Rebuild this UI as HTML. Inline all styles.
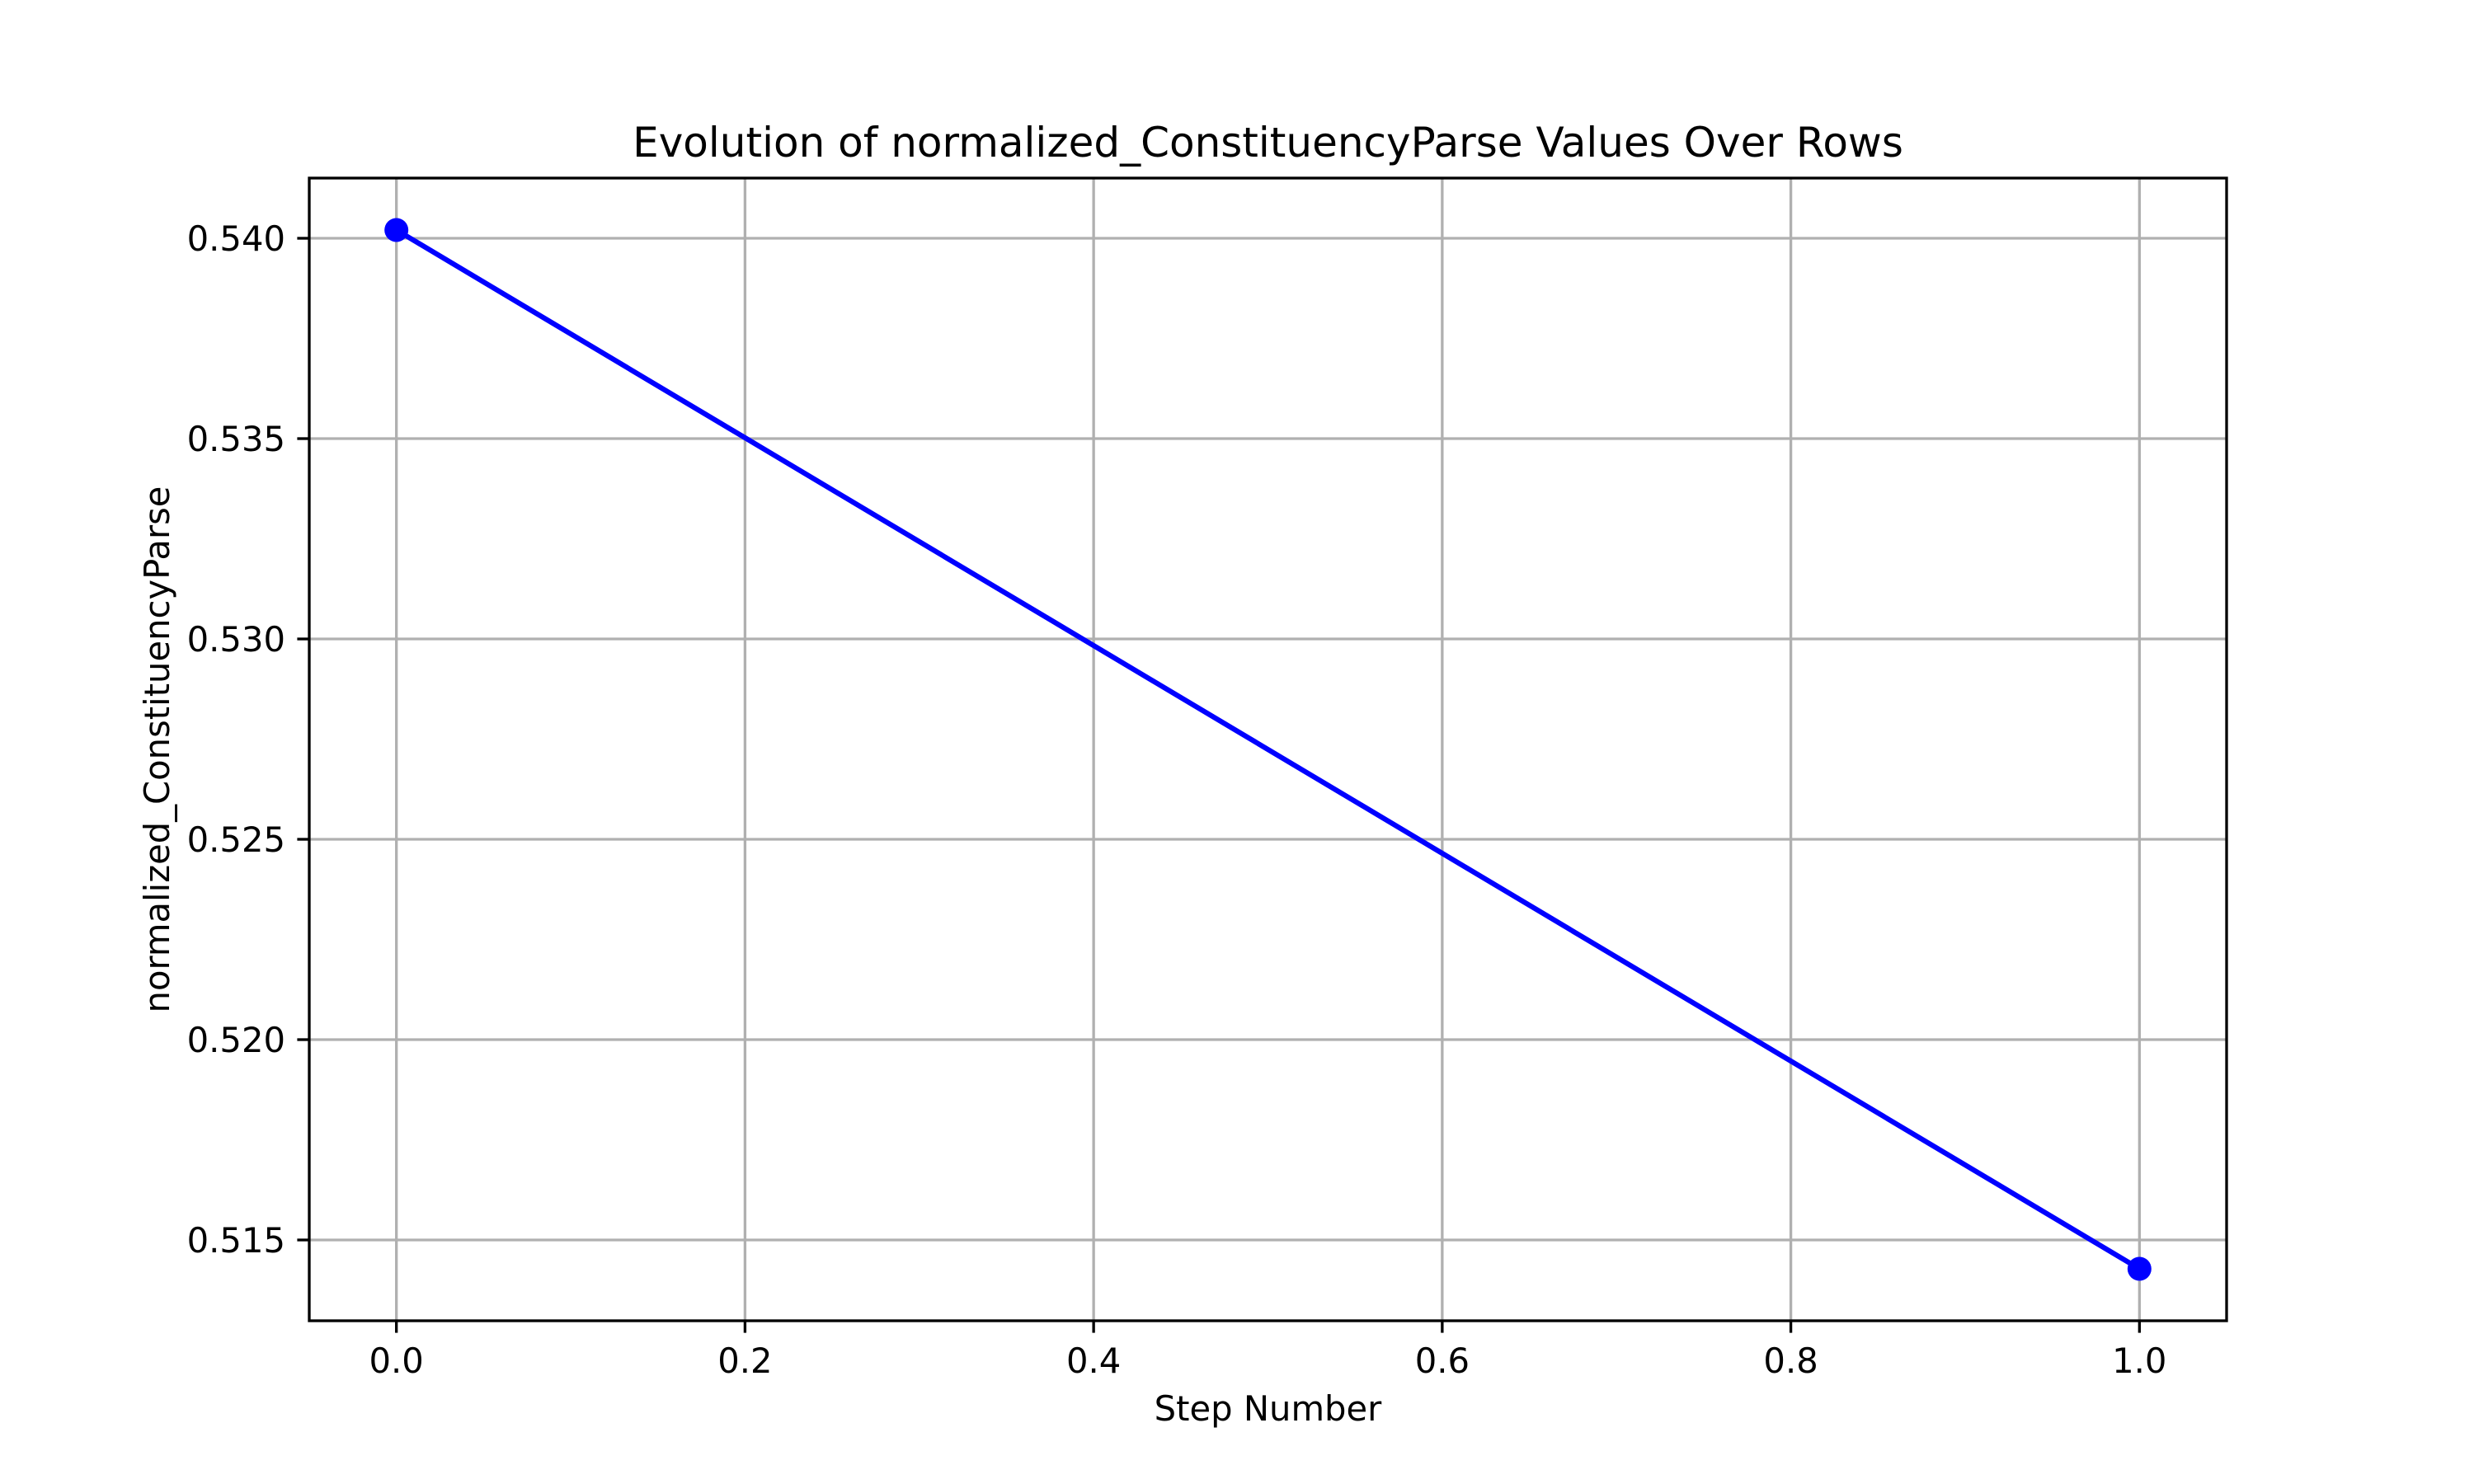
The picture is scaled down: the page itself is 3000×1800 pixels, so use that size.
<!DOCTYPE html>
<html><head><meta charset="utf-8"><style>body{margin:0;background:#fff}svg{display:block}</style></head>
<body>
<svg id="chart" xmlns="http://www.w3.org/2000/svg" width="3000" height="1800" viewBox="0 0 3000 1800" font-family="DejaVu Sans, Liberation Sans, sans-serif">
<rect width="3000" height="1800" fill="#fff"/>
<g id="grid"></g>
<g id="ticks"></g>
<g id="series"></g>
<rect x="375" y="216" width="2325" height="1386" fill="none" stroke="#000" stroke-width="3.33"/>
<text x="1537.5" y="190" font-size="50" text-anchor="middle">Evolution of normalized_ConstituencyParse Values Over Rows</text>
<text x="1537.5" y="1723" font-size="41.7" text-anchor="middle">Step Number</text>
<text x="0" y="0" font-size="41.7" text-anchor="middle" transform="translate(205,909) rotate(-90)">normalized_ConstituencyParse</text>
</svg>
<script>
const steps = [0, 1];
const values = [0.540206, 0.51428];
const xTicks = [0, 0.2, 0.4, 0.6, 0.8, 1.0];
const xTickLabels = ["0.0","0.2","0.4","0.6","0.8","1.0"];
const yTicks = [0.515, 0.520, 0.525, 0.530, 0.535, 0.540];
const yTickLabels = ["0.515","0.520","0.525","0.530","0.535","0.540"];

const L=375,R=2700,T=216,B=1602;
const xmin=Math.min(...steps),xmax=Math.max(...steps),xm=(xmax-xmin)*0.05;
const ymin=Math.min(...values),ymax=Math.max(...values),ym=(ymax-ymin)*0.05;
const sx=v=>L+(v-(xmin-xm))/((xmax+xm)-(xmin-xm))*(R-L);
const sy=v=>B-(v-(ymin-ym))/((ymax+ym)-(ymin-ym))*(B-T);
const NS="http://www.w3.org/2000/svg";
function mk(tag,attrs,parent,text){const e=document.createElementNS(NS,tag);for(const k in attrs)e.setAttribute(k,attrs[k]);if(text!==undefined)e.textContent=text;document.getElementById(parent).appendChild(e);return e;}
xTicks.forEach((t,i)=>{const x=sx(t);
 let g=mk('line',{x1:x,x2:x,y1:T,y2:B,stroke:'#b0b0b0','stroke-width':3.33},'grid');
 
 
 let tk=mk('line',{x1:x,x2:x,y1:B,y2:B+14.6,stroke:'#000','stroke-width':3.33},'ticks');
 
 
 let tl=mk('text',{x:x,y:B+63,'font-size':41.7,'text-anchor':'middle'},'ticks',xTickLabels[i]);
 
 
});
yTicks.forEach((t,i)=>{const y=sy(t);
 let g=mk('line',{x1:L,x2:R,y1:y,y2:y,stroke:'#b0b0b0','stroke-width':3.33},'grid');
 
 
 let tk=mk('line',{x1:L-14.6,x2:L,y1:y,y2:y,stroke:'#000','stroke-width':3.33},'ticks');
 
 
 let tl=mk('text',{x:L-29,y:y+15,'font-size':41.7,'text-anchor':'end'},'ticks',yTickLabels[i]);
 
 
});
const pts=steps.map((s,i)=>sx(s)+','+sy(values[i])).join(' ');
let line=mk('polyline',{points:pts,fill:'none',stroke:'#0000ff','stroke-width':6.25,'stroke-linejoin':'round'},'series');


steps.forEach((s,i)=>{
 let c=mk('circle',{cx:sx(s),cy:sy(values[i]),r:14.5,fill:'#0000ff'},'series');
 
 
});
</script>
</body></html>
